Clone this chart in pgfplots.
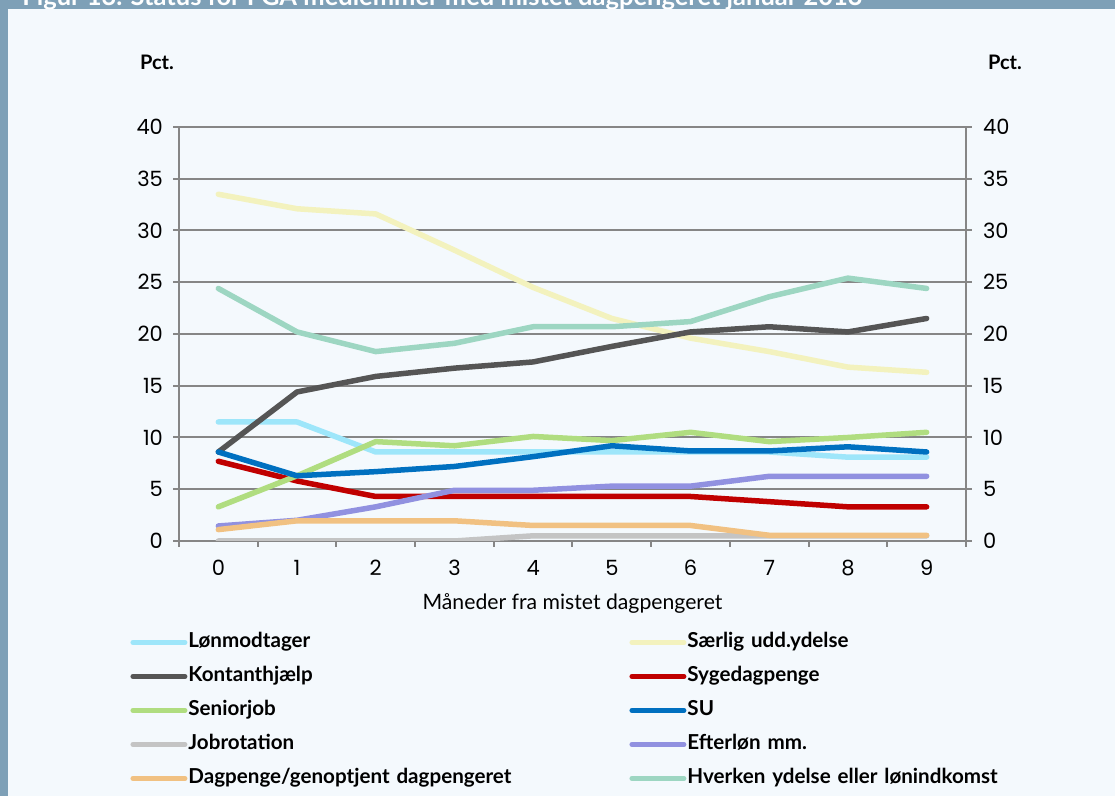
\documentclass[border=0pt]{standalone}
\usepackage{fontspec}
\setmainfont{Lato}
\newfontfamily\tickfont{Poppins}
\usepackage{pgfplots}
\pgfplotsset{compat=1.18}

\definecolor{bgcol}{RGB}{244,249,253}
\definecolor{framecol}{RGB}{126,160,183}
\definecolor{gridgray}{RGB}{134,134,134}
\definecolor{lonblue}{RGB}{158,230,250}
\definecolor{saerlig}{RGB}{243,242,190}
\definecolor{kontgray}{RGB}{85,85,85}
\definecolor{syge}{RGB}{192,0,0}
\definecolor{senior}{RGB}{176,221,128}
\definecolor{su}{RGB}{0,112,192}
\definecolor{jobgray}{RGB}{196,196,196}
\definecolor{efter}{RGB}{145,145,224}
\definecolor{dagorange}{RGB}{241,193,130}
\definecolor{hverken}{RGB}{157,214,194}

\begin{document}
\begin{tikzpicture}[x=0.5pt,y=0.5pt]
\useasboundingbox (0,0) rectangle (1115,796);
\fill[bgcol] (0,0) rectangle (1115,796);
\begin{scope}
\clip (0,787) rectangle (1115,796);
\fill[framecol] (0,787) rectangle (1115,796);
\node[anchor=base west, text=white, inner sep=0pt, font=\bfseries\fontsize{12.75}{15}\selectfont] at (22,790)
  {Figur 13. Status for FGA medlemmer med mistet dagpengeret januar 2013};
\end{scope}
\fill[framecol] (0,0) rectangle (8,796);

\node[font=\bfseries\fontsize{10}{12}\selectfont] at (157,734) {Pct.};
\node[font=\bfseries\fontsize{10}{12}\selectfont] at (1005,734) {Pct.};

\begin{axis}[
    at={(89.5pt,127.5pt)}, anchor=south west,
    width=393.5pt, height=207pt, scale only axis,
    xmin=-0.5, xmax=9.5, ymin=0, ymax=40,
    xtick={-0.5,0.5,...,9.5},
    x tick label as interval,
    xticklabels={0,1,2,3,4,5,6,7,8,9},
    xtick pos=left, ytick pos=both,
    ytick={0,5,...,40},
    tick align=outside, major tick length=3pt,
    tick style={gridgray, line width=1pt},
    axis line style={gridgray, line width=1pt},
    ymajorgrids, grid style={gridgray, line width=1pt},
    tick label style={font=\tickfont\fontsize{10.5}{12}\selectfont},
    xticklabel style={yshift=-3pt},
    yticklabel style={xshift=-1.5pt},
    /pgf/number format/assume math mode=true,
    xlabel={Måneder fra mistet dagpengeret},
    xlabel style={font=\fontsize{10.6}{12}\selectfont, at={(axis description cs:0.5,-0.152)}, anchor=center},
    every axis plot/.append style={line width=2.75pt, line cap=round, line join=round},
    legend columns=2,
    legend cell align=left,
    legend image code/.code={\draw[#1, line width=2.5pt, line cap=round] (0pt,0pt) -- (26pt,0pt);},
    legend style={draw=none, fill=none, at={(axis description cs:-0.0622,-0.2223)}, anchor=north west,
      inner sep=0pt, row sep=8pt, column sep=0pt,
      nodes={inner xsep=0.5pt, inner ysep=0pt, text width=220pt, text height=7pt, text depth=2pt,
        align=left, font=\bfseries\fontsize{10.3}{12}\selectfont}},
]
\addplot[lonblue] coordinates {(0,11.5) (1,11.5) (2,8.6) (3,8.6) (4,8.6) (5,8.6) (6,8.6) (7,8.6) (8,8.1) (9,8.1)};
\addlegendentry{Lønmodtager}
\addplot[saerlig] coordinates {(0,33.5) (1,32.1) (2,31.6) (3,28.1) (4,24.5) (5,21.5) (6,19.6) (7,18.3) (8,16.8) (9,16.3)};
\addlegendentry{Særlig udd.ydelse}
\addplot[kontgray] coordinates {(0,8.6) (1,14.4) (2,15.9) (3,16.7) (4,17.3) (5,18.8) (6,20.2) (7,20.7) (8,20.2) (9,21.5)};
\addlegendentry{Kontanthjælp}
\addplot[syge] coordinates {(0,7.7) (1,5.8) (2,4.3) (3,4.3) (4,4.3) (5,4.3) (6,4.3) (7,3.8) (8,3.3) (9,3.3)};
\addlegendentry{Sygedagpenge}
\addplot[senior] coordinates {(0,3.3) (1,6.3) (2,9.6) (3,9.2) (4,10.1) (5,9.7) (6,10.5) (7,9.6) (8,10.0) (9,10.5)};
\addlegendentry{Seniorjob}
\addplot[su] coordinates {(0,8.6) (1,6.3) (2,6.7) (3,7.2) (4,8.15) (5,9.2) (6,8.7) (7,8.7) (8,9.1) (9,8.6)};
\addlegendentry{SU}
\addplot[jobgray] coordinates {(0,0) (1,0) (2,0) (3,0) (4,0.5) (5,0.5) (6,0.5) (7,0.5) (8,0.5) (9,0.5)};
\addlegendentry{Jobrotation}
\addplot[efter] coordinates {(0,1.45) (1,2.0) (2,3.3) (3,4.9) (4,4.9) (5,5.3) (6,5.3) (7,6.25) (8,6.25) (9,6.25)};
\addlegendentry{Efterløn mm.}
\addplot[dagorange] coordinates {(0,1.1) (1,1.95) (2,1.95) (3,1.95) (4,1.5) (5,1.5) (6,1.5) (7,0.55) (8,0.55) (9,0.55)};
\addlegendentry{Dagpenge/genoptjent dagpengeret}
\addplot[hverken] coordinates {(0,24.4) (1,20.2) (2,18.3) (3,19.1) (4,20.7) (5,20.7) (6,21.2) (7,23.6) (8,25.4) (9,24.4)};
\addlegendentry{Hverken ydelse eller lønindkomst}
\end{axis}

\begin{axis}[
    at={(89.5pt,127.5pt)}, anchor=south west,
    width=393.5pt, height=207pt, scale only axis,
    xmin=-0.5, xmax=9.5, ymin=0, ymax=40,
    hide x axis,
    axis y line*=right,
    y axis line style={draw=none},
    ytick={0,5,...,40},
    tick align=outside, major tick length=3pt,
    ytick style={draw=none},
    tick label style={font=\tickfont\fontsize{10.5}{12}\selectfont},
    yticklabel style={xshift=2pt},
    /pgf/number format/assume math mode=true,
]
\end{axis}
\end{tikzpicture}
\end{document}
